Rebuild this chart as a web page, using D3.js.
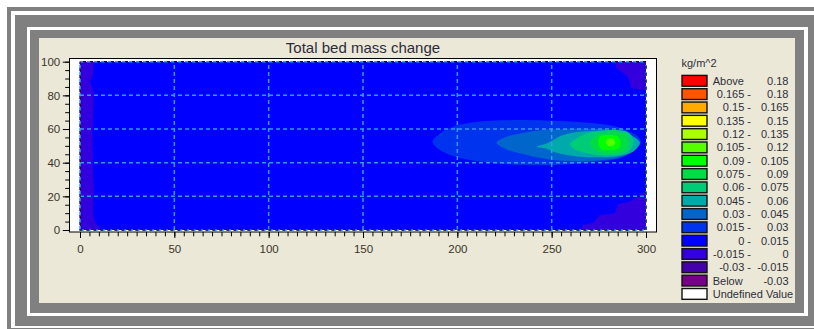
<!DOCTYPE html>
<html>
<head>
<meta charset="utf-8">
<script src="https://cdn.jsdelivr.net/npm/d3@7"></script>
<style>
  body { margin: 0; background: #fff; }
  svg { display: block; font-family: "Liberation Sans", Arial, sans-serif; }
</style>
</head>
<body>
<svg id="chart" width="814" height="329"></svg>
<script>
// ---- data ----
const chartTitle = 'Total bed mass change';
const unitLabel = 'kg/m^2';
const xTicksMajor = [0, 50, 100, 150, 200, 250, 300];
const yTicksMajor = [0, 20, 40, 60, 80, 100];

// legend rows, top to bottom
const legendLeft = ['Above', '0.165 -', '0.15 -', '0.135 -', '0.12 -', '0.105 -', '0.09 -', '0.075 -',
  '0.06 -', '0.045 -', '0.03 -', '0.015 -', '0 -', '-0.015 -', '-0.03 -', 'Below', 'Undefined Value'];
const legendRight = ['0.18', '0.18', '0.165', '0.15', '0.135', '0.12', '0.105', '0.09',
  '0.075', '0.06', '0.045', '0.03', '0.015', '0', '-0.015', '-0.03', ''];
const legendColors = ['#ff0000', '#ff5500', '#ffaa00', '#ffff00', '#aaff00', '#55ff00', '#00ff00', '#00dd44',
  '#00cc77', '#00aaaa', '#0066cc', '#0033ee', '#0000ff', '#3300dd', '#4400aa', '#770088', '#ffffff'];

// filled contour regions: [legend row, points in (x, y) data units]
const regionLevels = [13, 13, 13, 11, 10, 9, 8, 7, 6, 5];
const regionPoints = [
  // left strip
  [[0, 100], [7.4, 100], [6.9, 92.1], [5.3, 87.9], [7.4, 81.4], [6.9, 71.3], [6.6, 53.5], [6.9, 29.7],
   [7.4, 23.8], [6.9, 17.8], [6.9, 8.9], [8.5, 3.6], [11.7, 0], [0, 0]],
  // top right corner
  [[283.5, 100], [284.4, 96.1], [287.2, 93.9], [290.4, 91.1], [292.4, 84.2], [296.8, 83.5], [300, 83.2], [300, 100]],
  // bottom right corner
  [[265, 0], [266.7, 3], [272, 4.3], [275.6, 8.9], [283.5, 9.9], [285.3, 15.4], [291.5, 16.8], [296.8, 20.8],
   [300, 22.8], [300, 0]],
  // plume, outer to inner
  [[186.9, 52.5], [190.8, 57.4], [197.7, 61.4], [206.7, 63.7], [215.6, 64.8], [233.2, 65.3], [250.7, 64.9],
   [268.6, 63.7], [282.7, 61.8], [291.5, 58.4], [295.9, 55.4], [297.2, 52.5], [295.9, 49.5], [291.5, 45.6],
   [286.2, 42.6], [268.6, 40.0], [250.9, 38.6], [233.2, 38.6], [224.2, 39.2], [206.7, 41.6], [197.9, 44.0], [190.8, 47.5]],
  [[220.8, 51.9], [226.2, 55.4], [233.2, 57.4], [242.1, 59.0], [250.9, 59.8], [265.0, 60.2], [279.2, 59.8],
   [286.2, 59.0], [290.6, 56.4], [293.3, 54.5], [294.2, 51.5], [293.3, 48.5], [290.6, 45.6], [286.2, 43.2],
   [277.4, 41.6], [268.6, 40.8], [259.7, 41.0], [250.9, 41.6], [242.1, 43.2], [233.2, 45.6], [226.2, 47.9]],
  [[242.1, 49.5], [247, 51.2], [250.9, 53.5], [256.2, 56.4], [265, 58.4], [275.6, 59.0], [284.5, 59.0],
   [289.8, 58.4], [293.3, 55.4], [295.9, 53.5], [296.8, 51.5], [295, 48.5], [291.5, 45.6], [282.7, 43.5],
   [273.9, 43.2], [265, 43.5], [256.2, 45.0], [250.9, 46.5], [247, 48.4]],
  [[259.7, 50.9], [263.3, 54.5], [268.6, 57.4], [275.6, 59.0], [284.5, 59.4], [289.8, 58.4], [292.4, 55.4],
   [293.3, 51.5], [291.5, 47.5], [288.0, 45.0], [280.9, 44.1], [273.9, 44.6], [266.8, 46.2], [261.5, 48.5]],
  [[270.3, 51.5], [273.0, 55.4], [277.4, 57.4], [284.5, 58.0], [288.9, 56.9], [290.6, 52.5], [289.8, 48.5],
   [286.2, 46.2], [279.2, 45.6], [273.9, 46.9]],
  [[274.7, 52.1], [275.6, 55.4], [280.9, 56.4], [285.3, 55.4], [286.6, 52.1], [285.3, 48.5], [280.9, 47.5], [276.0, 48.5]],
  [[278.8, 52.1], [280.0, 54.1], [282.7, 54.1], [283.7, 52.1], [282.7, 50.1], [280.0, 50.1]]
];
const backgroundLevel = 12;

// ---- layout ----
const svg = d3.select('#chart');
const gray = '#808080';
const panel = '#ebe8d8';

// nested window frames
svg.append('rect').attr('x', 7).attr('y', 7).attr('width', 900).attr('height', 900).attr('fill', gray);
svg.append('rect').attr('x', 11).attr('y', 11).attr('width', 900).attr('height', 317).attr('fill', '#fff');
svg.append('rect').attr('x', 15).attr('y', 15).attr('width', 900).attr('height', 311).attr('fill', gray);
svg.append('rect').attr('x', 27).attr('y', 27).attr('width', 781).attr('height', 289).attr('fill', '#fff');
svg.append('rect').attr('x', 30).attr('y', 30).attr('width', 774).attr('height', 283).attr('fill', gray);
svg.append('rect').attr('x', 39).attr('y', 38).attr('width', 756).attr('height', 265).attr('fill', panel);

const x = d3.scaleLinear().domain([0, 300]).range([80, 646]);
const y = d3.scaleLinear().domain([0, 100]).range([230, 61.7]);

// axes box
svg.append('rect')
  .attr('x', 69.5).attr('y', 58.5).attr('width', 587).attr('height', 173.5)
  .attr('fill', '#fff').attr('stroke', '#000').attr('stroke-width', 1);

svg.append('text')
  .attr('x', (x(0) + x(300)) / 2).attr('y', 52.5)
  .attr('text-anchor', 'middle')
  .style('font-size', '15px').style('fill', '#2b2b3a')
  .text(chartTitle);

// data area
svg.append('clipPath').attr('id', 'plot-clip')
  .append('rect').attr('x', x(0)).attr('y', y(100)).attr('width', x(300) - x(0)).attr('height', y(0) - y(100));

const plot = svg.append('g').attr('clip-path', 'url(#plot-clip)');
plot.append('rect')
  .attr('x', x(0)).attr('y', y(100)).attr('width', x(300) - x(0)).attr('height', y(0) - y(100))
  .attr('fill', legendColors[backgroundLevel]);

const edgeLine = d3.line().x((d) => x(d[0])).y((d) => y(d[1])).curve(d3.curveLinearClosed);
const smoothLine = d3.line().x((d) => x(d[0])).y((d) => y(d[1])).curve(d3.curveCatmullRomClosed.alpha(0.5));

plot.selectAll('.region')
  .data(regionPoints)
  .enter()
  .append('path')
  .attr('class', 'region')
  .attr('d', (d, i) => (i < 3 ? edgeLine(d) : smoothLine(d)))
  .attr('fill', (d, i) => legendColors[regionLevels[i]]);

// dashed grid
const gridColor = '#3399ff';
const grid = svg.append('g');
grid.selectAll('.gx').data(xTicksMajor).enter().append('line')
  .attr('x1', (d) => x(d)).attr('x2', (d) => x(d)).attr('y1', y(0)).attr('y2', y(100))
  .attr('stroke', gridColor).attr('stroke-width', 1.5).attr('stroke-dasharray', '4,3');
grid.selectAll('.gy').data(yTicksMajor).enter().append('line')
  .attr('y1', (d) => y(d)).attr('y2', (d) => y(d)).attr('x1', x(0)).attr('x2', x(300))
  .attr('stroke', gridColor).attr('stroke-width', 1.5).attr('stroke-dasharray', '4,3');
svg.append('rect')
  .attr('x', x(0)).attr('y', y(100)).attr('width', x(300) - x(0)).attr('height', y(0) - y(100))
  .attr('fill', 'none').attr('stroke', '#111').attr('stroke-width', 1.3)
  .attr('stroke-dasharray', '3,4').attr('stroke-dashoffset', 4);

// axes
function styleAxis(g) {
  g.select('.domain').remove();
  g.selectAll('line').attr('stroke', '#000');
  g.selectAll('text').style('font-size', '11.5px').style('fill', '#3a3528').style('font-family', '"Liberation Sans", Arial, sans-serif');
}
svg.append('g').attr('transform', 'translate(69.5,0)')
  .call(d3.axisLeft(y).tickValues(d3.range(0, 101, 5)).tickSize(4.3).tickFormat(''))
  .call(styleAxis);
svg.append('g').attr('transform', 'translate(69.5,0)')
  .call(d3.axisLeft(y).tickValues(yTicksMajor).tickSize(6.7).tickPadding(2.6))
  .call(styleAxis);
svg.append('g').attr('transform', 'translate(0,232)')
  .call(d3.axisBottom(x).tickValues(d3.range(0, 301, 5)).tickSize(4.3).tickFormat(''))
  .call(styleAxis);
svg.append('g').attr('transform', 'translate(0,232)')
  .call(d3.axisBottom(x).tickValues(xTicksMajor).tickSize(6).tickPadding(6.8))
  .call(styleAxis);

// legend
svg.append('clipPath').attr('id', 'legend-clip')
  .append('rect').attr('x', 670).attr('y', 40).attr('width', 125).attr('height', 262);
const legend = svg.append('g').attr('clip-path', 'url(#legend-clip)')
  .style('font-size', '11px').style('fill', '#2e2e3a');

legend.append('text').attr('x', 681.5).attr('y', 66.5).text(unitLabel);

const rows = legend.selectAll('.legend-row')
  .data(legendColors)
  .enter()
  .append('g')
  .attr('class', 'legend-row')
  .attr('transform', (d, i) => 'translate(0,' + (80.7 + 13.32 * i) + ')');

rows.append('rect')
  .attr('x', 682).attr('y', -5.3).attr('width', 25).attr('height', 10.8)
  .attr('fill', (d) => d).attr('stroke', '#111').attr('stroke-width', 1.4);

rows.append('text')
  .attr('x', (d, i) => (i === 0 || i >= 15 ? 712.7 : 751))
  .attr('y', 4)
  .attr('text-anchor', (d, i) => (i === 0 || i >= 15 ? 'start' : 'end'))
  .text((d, i) => legendLeft[i]);

rows.append('text')
  .attr('x', 788.5).attr('y', 4)
  .attr('text-anchor', 'end')
  .text((d, i) => legendRight[i]);
</script>
</body>
</html>
